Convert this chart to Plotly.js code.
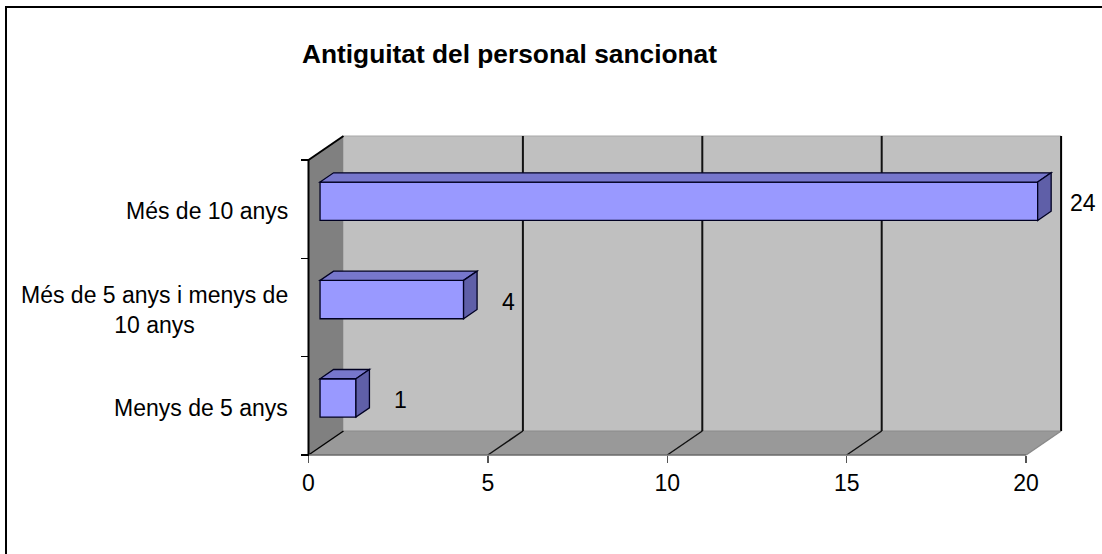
<!DOCTYPE html>
<html>
<head>
<meta charset="utf-8">
<script src="https://cdn.plot.ly/plotly-3.0.1.min.js"></script>
<style>
  html, body { margin: 0; padding: 0; background: #ffffff; }
  #chart { width: 1102px; height: 554px; }
</style>
</head>
<body>
<div id="chart"></div>
<script>
// ---- data ----
const titleText = "Antiguitat del personal sancionat";
const categories = ["Menys de 5 anys", "Més de 5 anys i menys de<br>10 anys", "Més de 10 anys"];
const values = [1, 4, 24];
const tickValues = [0, 5, 10, 15, 20];
const axisMax = 20;

// ---- geometry (styling) ----
const W = 1102, H = 554;
const pxPerX = 35.88, x0px = 308.5;       // front axis scale
const pxPerY = 98.33, yBottomPx = 455;     // category band scale
const xa = -x0px / pxPerX, xb = xa + W / pxPerX;
const ya = -0.5 - (H - yBottomPx) / pxPerY, yb = ya + H / pxPerY;
const DX = 35 / pxPerX, DY = 24 / pxPerY;  // wall depth
const fFront = 0.33, fBack = 0.716;        // bar depth fractions
const barH = 0.39;
const font = "Liberation Sans, Arial, sans-serif";
const textSize = 23;

const n = categories.length;
const yIdx = categories.map((c, i) => i);
const yTop = n - 0.5, yBot = -0.5;
const clipped = values.map(v => Math.min(v, axisMax));
const baseX = fFront * DX, offY = fFront * DY;
const ddx = (fBack - fFront) * DX, ddy = (fBack - fFront) * DY;

const shapes = [];
function poly(pts, fill, lineColor, lw, layer) {
  const d = 'M ' + pts.map(p => p[0] + ',' + p[1]).join(' L ') + ' Z';
  shapes.push({type: 'path', xref: 'x', yref: 'y', path: d, fillcolor: fill,
    line: {color: lineColor || 'rgba(0,0,0,0)', width: lw || 0}, layer: layer || 'below'});
}
function seg(xA, yA, xB, yB, color, lw, layer) {
  shapes.push({type: 'line', xref: 'x', yref: 'y', x0: xA, y0: yA, x1: xB, y1: yB,
    line: {color: color, width: lw}, layer: layer || 'below'});
}

// walls
poly([[DX, yBot + DY], [axisMax + DX, yBot + DY], [axisMax + DX, yTop + DY], [DX, yTop + DY]], '#c0c0c0');
poly([[0, yBot], [0, yTop], [DX, yTop + DY], [DX, yBot + DY]], '#808080');
poly([[0, yBot], [axisMax, yBot], [axisMax + DX, yBot + DY], [DX, yBot + DY]], '#999999');
seg(DX, yTop + DY, axisMax + DX, yTop + DY, '#a8a8a8', 1);
seg(DX, yBot + DY, axisMax + DX, yBot + DY, '#8c8c8c', 1);
// gridlines
tickValues.forEach(t => {
  if (t === 0) return;
  const col = t === axisMax ? '#000000' : '#111111';
  seg(t + DX, yBot + DY, t + DX, yTop + DY, col, 2);
  seg(t, yBot, t + DX, yBot + DY, t === axisMax ? '#8a8a8a' : '#111111', 1.5);
});
// left wall edges
seg(0, yBot, 0, yTop, '#000000', 2);
seg(0, yTop, DX, yTop + DY, '#000000', 2);
seg(0, yBot, DX, yBot + DY, '#000000', 1.5);
seg(0, yBot, axisMax, yBot, '#6a6a6a', 1.5);

// bar top and side faces
clipped.forEach((v, i) => {
  const yc = yIdx[i] + offY;
  const t = yc + barH / 2, b = yc - barH / 2;
  const xr = baseX + v;
  poly([[baseX, t], [xr, t], [xr + ddx, t + ddy], [baseX + ddx, t + ddy]], '#7777cc', '#000022', 1.3, 'above');
  poly([[xr, b], [xr, t], [xr + ddx, t + ddy], [xr + ddx, b + ddy]], '#5f5fa8', '#000022', 1.3, 'above');
});

// outer frame
shapes.push({type: 'rect', xref: 'paper', yref: 'paper', x0: 6 / W, x1: 1.05, y0: -0.05, y1: 1 - 7 / H,
  line: {color: '#000000', width: 2}, fillcolor: 'rgba(0,0,0,0)', layer: 'above'});

const annotations = [];
categories.forEach((c, i) => {
  annotations.push({xref: 'x', yref: 'y', x: 0, y: yIdx[i], xshift: -19, yshift: -2,
    text: c, showarrow: false, xanchor: 'right', yanchor: 'middle', align: 'center',
    font: {family: font, size: textSize, color: '#000000'}});
});
values.forEach((v, i) => {
  annotations.push({xref: 'x', yref: 'y', x: baseX + clipped[i], y: yIdx[i] + offY, xshift: 45, yshift: -2,
    text: String(v), showarrow: false, xanchor: 'center', yanchor: 'middle',
    font: {family: font, size: textSize, color: '#000000'}});
});

const trace = {
  type: 'bar', orientation: 'h',
  y: yIdx.map(y => y + offY), x: clipped, base: baseX, width: barH,
  marker: {color: '#9999ff', line: {color: '#000022', width: 1.3}},
  hoverinfo: 'skip', cliponaxis: false
};

const layout = {
  width: W, height: H,
  margin: {l: 0, r: 0, t: 0, b: 0, pad: 0},
  paper_bgcolor: '#ffffff', plot_bgcolor: 'rgba(0,0,0,0)',
  showlegend: false,
  title: {text: '<b>' + titleText + '</b>', x: 302 / W, xanchor: 'left', xref: 'paper',
    y: 1 - 54 / H, yanchor: 'middle', yref: 'paper', font: {family: font, size: 26.3, color: '#000000'}},
  xaxis: {range: [xa, xb], anchor: 'free', position: (H - yBottomPx) / H, domain: [0, 1],
    tickmode: 'array', tickvals: tickValues, ticktext: tickValues.map(String),
    ticks: 'outside', ticklen: 7, tickwidth: 1.5, tickcolor: '#555555',
    tickfont: {family: font, size: textSize, color: '#000000'},
    showgrid: false, zeroline: false, showline: false, fixedrange: true},
  yaxis: {range: [ya, yb], anchor: 'free', position: x0px / W, domain: [0, 1],
    tickmode: 'array', tickvals: [-0.5, 0.5, 1.5, 2.5], ticks: 'outside', ticklen: 8, tickwidth: 1.5,
    tickcolor: '#000000', showticklabels: false,
    showgrid: false, zeroline: false, showline: false, fixedrange: true},
  shapes: shapes,
  annotations: annotations
};

Plotly.newPlot('chart', [trace], layout, {displayModeBar: false, staticPlot: true});
</script>
</body>
</html>
